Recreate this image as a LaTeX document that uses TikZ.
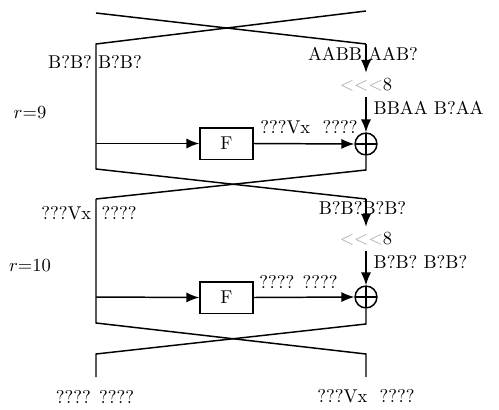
\documentclass[tikz,border=0pt]{standalone}
\usetikzlibrary{arrows.meta}
\begin{document}
\begin{tikzpicture}[x=0.54pt,y=-0.54pt,line width=0.8pt,
  arr/.style={-{Latex[length=7pt,width=5.5pt]}},
  fbox/.style={draw,minimum width=28.6pt,minimum height=17pt,inner sep=0pt},
  xorn/.style={circle,draw,minimum size=11.8pt,inner sep=0pt,
    path picture={\draw (path picture bounding box.north)--(path picture bounding box.south)
      (path picture bounding box.west)--(path picture bounding box.east);}},
  rotn/.style={inner sep=0pt,minimum height=12.4pt},
  lbl/.style={inner sep=0pt}]
\useasboundingbox (0,0) rectangle (499,410);
\newcommand{\rotl}{\textcolor{gray!70}{$<$$<$$<$}8}
% ---------- round 9 ----------
\coordinate (t9l) at (96,13);  \coordinate (t9r) at (366,11);
\coordinate (a9l) at (96,44);  \coordinate (a9r) at (366,44);
\coordinate (b9l) at (96,169); \coordinate (b9r) at (366,170);
\coordinate (c9l) at (96,199); \coordinate (c9r) at (366,199);
\coordinate (j9) at (96,143.5);
\node[fbox] (F9) at (226.5,143.5) {F};
\node[xorn] (X9) at (366,144) {};
\node[rotn] (R9) at (366,85) {\rotl};
\draw (t9l) -- (a9r);
\draw (t9r) -- (a9l) -- (b9l) -- (c9r);
\draw[arr] (a9r) -- (R9.north);
\draw[arr] (R9.south) -- (X9.north);
\draw (X9.south) -- (b9r) -- (c9l);
\draw[arr] (j9) -- (F9.west);
\draw[arr] (F9.east) -- (X9.west);
\node[lbl] (l9a) at (95,62) {B?B? B?B?};
\node[lbl] (l9b) at (363,54) {AABB AAB?};
\node[lbl,anchor=west] (l9c) at (373,108) {BBAA B?AA};
\node[lbl,anchor=east] (l9d) at (311,127) {???Vx};
\node[lbl,anchor=west] (l9e) at (322,127) {????};
\node[lbl] (r9) at (30,113) {$r$=9};
% ---------- round 10 ----------
\coordinate (b10l) at (96,323); \coordinate (b10r) at (366,324);
\coordinate (c10l) at (96,354); \coordinate (c10r) at (366,354);
\coordinate (e10l) at (96,377); \coordinate (e10r) at (366,377);
\coordinate (j10) at (96,297);
\node[fbox] (F10) at (226.5,297.5) {F};
\node[xorn] (X10) at (366,297) {};
\node[rotn] (R10) at (366,239) {\rotl};
\draw (c9l) -- (b10l) -- (c10r) -- (e10r);
\draw[arr] (c9r) -- (R10.north);
\draw[arr] (R10.south) -- (X10.north);
\draw (X10.south) -- (b10r) -- (c10l) -- (e10l);
\draw[arr] (j10) -- (F10.west);
\draw[arr] (F10.east) -- (X10.west);
\node[lbl,anchor=east] (l10a) at (92,213) {???Vx};
\node[lbl,anchor=west] (l10b) at (101,213) {????};
\node[lbl] (l10c) at (362.5,208) {B?B?B?B?};
\node[lbl,anchor=west] (l10d) at (373,262) {B?B? B?B?};
\node[lbl] (l10e) at (298.5,282) {???? ????};
\node[lbl] (r10) at (30,266) {$r$=10};
% ---------- outputs ----------
\node[lbl] (o1) at (95,397) {???? ????};
\node[lbl] (o2) at (366,396) {???Vx\ \ ????};
\end{tikzpicture}
\end{document}
